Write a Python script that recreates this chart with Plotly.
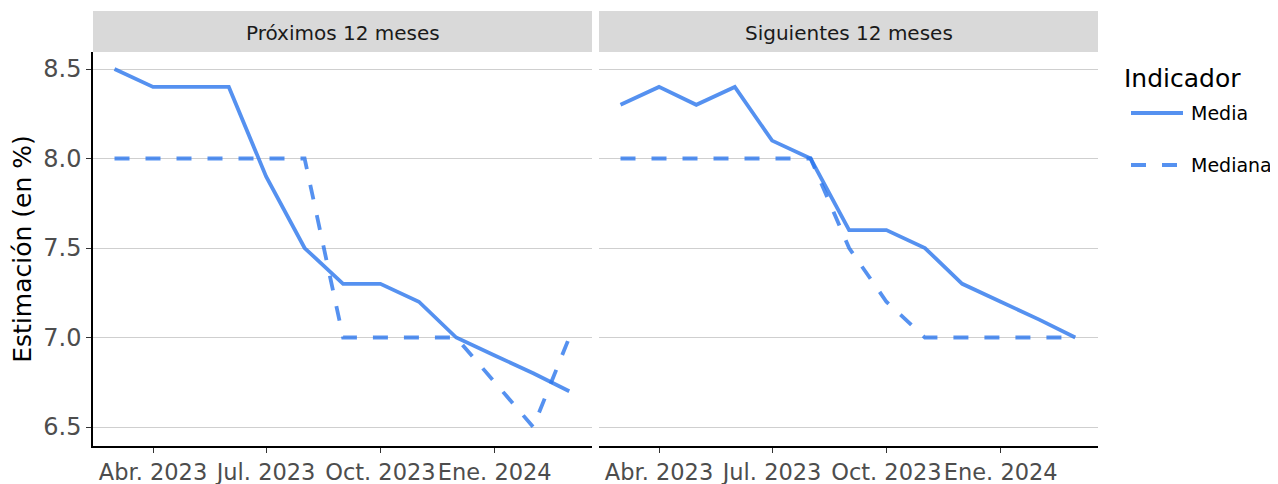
import plotly.graph_objects as go

# ---- data ----
months = ["2023-03-01", "2023-04-01", "2023-05-01", "2023-06-01", "2023-07-01",
          "2023-08-01", "2023-09-01", "2023-10-01", "2023-11-01", "2023-12-01",
          "2024-01-01", "2024-02-01", "2024-03-01"]
panels = ["Próximos 12 meses", "Siguientes 12 meses"]
media_prox = [8.5, 8.4, 8.4, 8.4, 7.9, 7.5, 7.3, 7.3, 7.2, 7.0, 6.9, 6.8, 6.7]
mediana_prox = [8.0, 8.0, 8.0, 8.0, 8.0, 8.0, 7.0, 7.0, 7.0, 7.0, 6.75, 6.5, 7.0]
media_sig = [8.3, 8.4, 8.3, 8.4, 8.1, 8.0, 7.6, 7.6, 7.5, 7.3, 7.2, 7.1, 7.0]
mediana_sig = [8.0, 8.0, 8.0, 8.0, 8.0, 8.0, 7.5, 7.2, 7.0, 7.0, 7.0, 7.0, 7.0]
tick_vals = ["2023-04-01", "2023-07-01", "2023-10-01", "2024-01-01"]
tick_text = ["Abr. 2023", "Jul. 2023", "Oct. 2023", "Ene. 2024"]
y_ticks = [6.5, 7.0, 7.5, 8.0, 8.5]
legend_names = ["Media", "Mediana"]

# page has an 8px body margin: the figure starts at (8, 8)
OFF = 8
W, H = 1278 - OFF, 484 - OFF
FONT = "DejaVu Sans"
LINE = "rgba(42,117,236,0.8)"
DASH = "15px,16px"
LW = 3.8

def px_x(p):
    return (p - OFF) / W

def px_y(p):
    return (H - (p - OFF)) / H

fig = go.Figure()
series = [(media_prox, mediana_prox, "x", "y"), (media_sig, mediana_sig, "x2", "y2")]
for med, mdn, xa, ya in series:
    fig.add_trace(go.Scatter(x=months, y=med, mode="lines", name=legend_names[0],
                             line=dict(color=LINE, width=LW), xaxis=xa, yaxis=ya,
                             showlegend=False))
    fig.add_trace(go.Scatter(x=months, y=mdn, mode="lines", name=legend_names[1],
                             line=dict(color=LINE, width=LW, dash=DASH), xaxis=xa, yaxis=ya,
                             showlegend=False))

x_range = ["2023-02-11 16:48", "2024-03-19 07:12"]
y_range = [6.394, 8.595]
ydom = [px_y(446), px_y(52)]

xcommon = dict(type="date", range=x_range, tickmode="array", tickvals=tick_vals,
               ticktext=tick_text, showgrid=False, zeroline=False, showline=True,
               linecolor="black", linewidth=1.5, ticks="outside", ticklen=5,
               tickcolor="#333333", tickwidth=1, automargin=False, tickangle=0,
               tickfont=dict(family=FONT, size=22.5, color="#4d4d4d"))
ycommon = dict(range=y_range, tickmode="array", tickvals=y_ticks,
               ticktext=[f"{v:.1f}" for v in y_ticks], showgrid=True,
               gridcolor="#cfcfcf", gridwidth=1.2, zeroline=False, domain=ydom,
               automargin=False)

fig.update_layout(
    width=W, height=H, autosize=False,
    margin=dict(l=0, r=0, t=0, b=0),
    paper_bgcolor="white", plot_bgcolor="white",
    showlegend=False,
    xaxis=dict(xcommon, domain=[px_x(93), px_x(592)], anchor="y"),
    xaxis2=dict(xcommon, domain=[px_x(599), px_x(1098)], anchor="y2"),
    yaxis=dict(ycommon, anchor="x", showline=True, linecolor="black", linewidth=1.5,
               ticks="outside", ticklen=5, tickcolor="#333333",
               tickfont=dict(family=FONT, size=24, color="#4d4d4d"),
               title=dict(text="Estimación (en %)", font=dict(family=FONT, size=25, color="black"),
                          standoff=10)),
    yaxis2=dict(ycommon, anchor="x2", matches="y", showticklabels=False, showline=False,
                ticks=""),
)

# facet strips
shapes = []
annotations = []
strip_bounds = [(93, 592), (599, 1098)]
for (x0, x1), label in zip(strip_bounds, panels):
    shapes.append(dict(type="rect", xref="paper", yref="paper",
                       x0=px_x(x0), x1=px_x(x1), y0=px_y(52), y1=px_y(11),
                       fillcolor="#d9d9d9", line=dict(width=0), layer="below"))
    annotations.append(dict(text=label, xref="paper", yref="paper",
                            x=px_x((x0 + x1) / 2), y=px_y(33), showarrow=False,
                            xanchor="center", yanchor="middle",
                            font=dict(family=FONT, size=20, color="#1a1a1a")))

# legend (drawn)
annotations.append(dict(text="Indicador", xref="paper", yref="paper", x=px_x(1122), y=px_y(78),
                        showarrow=False, xanchor="left", yanchor="middle",
                        font=dict(family=FONT, size=25, color="black")))
leg_y = [113, 165]
leg_dash = ["solid", DASH]
for name, yy, d in zip(legend_names, leg_y, leg_dash):
    shapes.append(dict(type="line", xref="paper", yref="paper",
                       x0=px_x(1131), x1=px_x(1183), y0=px_y(yy), y1=px_y(yy),
                       line=dict(color=LINE, width=LW, dash=d)))
    annotations.append(dict(text=name, xref="paper", yref="paper", x=px_x(1189), y=px_y(yy),
                            showarrow=False, xanchor="left", yanchor="middle",
                            font=dict(family=FONT, size=19, color="black")))

fig.update_layout(shapes=shapes, annotations=annotations)
fig.write_html("out.html")
